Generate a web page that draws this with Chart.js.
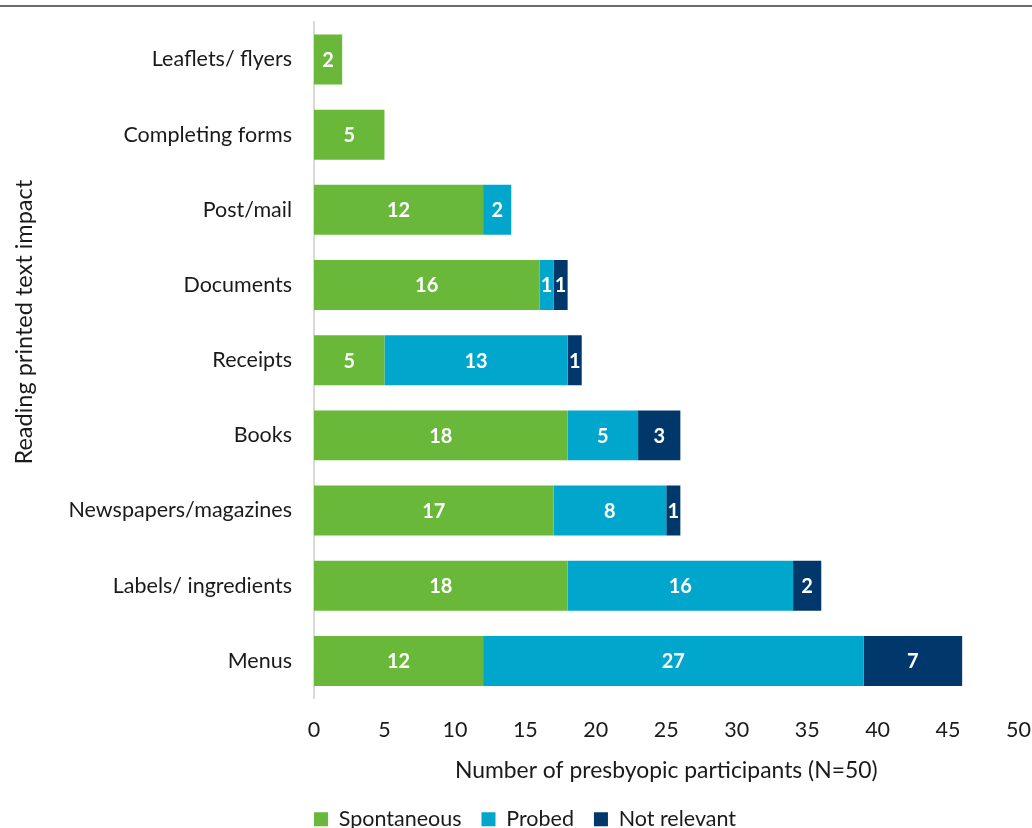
<!DOCTYPE html>
<html>
<head>
<meta charset="utf-8">
<script src="https://cdn.jsdelivr.net/npm/chart.js@4"></script>
<style>
  html, body { margin: 0; padding: 0; background: #fff; overflow: hidden; }
  #wrap { position: relative; width: 1032px; height: 828px; overflow: hidden; }
  #topline { position: absolute; left: 0; top: 5px; width: 1032px; height: 2px; background: #6b6b6b; z-index: 2; }
  #chart { position: absolute; left: 0; top: -13px; }
</style>
</head>
<body>
<div id="wrap">
  <div id="topline"></div>
  <canvas id="chart" width="1050" height="853"></canvas>
</div>
<script>
// Data
const categories = ['Leaflets/ flyers', 'Completing forms', 'Post/mail', 'Documents', 'Receipts',
  'Books', 'Newspapers/magazines', 'Labels/ ingredients', 'Menus'];
const spontaneous = [2, 5, 12, 16, 5, 18, 17, 18, 12];
const probed = [null, null, 2, 1, 13, 5, 8, 16, 27];
const notRelevant = [null, null, null, 1, 1, 3, 1, 2, 7];
const xTicks = [0, 5, 10, 15, 20, 25, 30, 35, 40, 45, 50];

const FONT = 'Lato, Carlito, Calibri, sans-serif';

// white value labels inside each segment
const segmentLabels = {
    id: 'segmentLabels',
    afterDatasetsDraw(chart) {
        const c = chart.ctx;
        c.save();
        c.fillStyle = '#fff';
        c.font = 'bold 20px ' + FONT;
        c.textAlign = 'center';
        c.textBaseline = 'middle';
        chart.data.datasets.forEach((ds, i) => {
            chart.getDatasetMeta(i).data.forEach((bar, j) => {
                const v = ds.data[j];
                if (!v) return;
                const cx = (bar.x + bar.base) / 2;
                c.fillText(String(v), cx, bar.y + 1);
            });
        });
        c.restore();
    }
};

// y-axis title, sits a bit above the middle of the axis as in the original
const yTitle = {
    id: 'yTitle',
    afterDraw(chart) {
        const c = chart.ctx;
        const area = chart.chartArea;
        c.save();
        c.translate(24, (area.top + area.bottom) / 2 - 38);
        c.rotate(-Math.PI / 2);
        c.fillStyle = '#1a1a1a';
        c.font = '23.5px ' + FONT;
        c.textAlign = 'center';
        c.textBaseline = 'middle';
        c.fillText('Reading printed text impact', 0, 0);
        c.restore();
    }
};

new Chart(document.getElementById('chart').getContext('2d'), {
    type: 'bar',
    data: {
        labels: categories,
        datasets: [
            { label: 'Spontaneous', data: spontaneous, backgroundColor: '#6ab83a' },
            { label: 'Probed', data: probed, backgroundColor: '#00a6cc' },
            { label: 'Not relevant', data: notRelevant, backgroundColor: '#00386c' }
        ]
    },
    options: {
        indexAxis: 'y',
        responsive: false,
        animation: false,
        layout: { padding: 0 },
        barPercentage: 0.665,
        categoryPercentage: 1,
        scales: {
            x: {
                stacked: true,
                min: 0,
                max: 50,
                afterBuildTicks(axis) { axis.ticks = xTicks.map(v => ({ value: v })); },
                afterFit(axis) { axis.height = 90; },
                grid: { display: false, drawTicks: false },
                border: { display: false },
                ticks: { color: '#1a1a1a', font: { family: FONT, size: 21.5 }, padding: 19 },
                title: {
                    display: true,
                    text: 'Number of presbyopic participants (N=50)',
                    color: '#1a1a1a',
                    font: { family: FONT, size: 22.9 },
                    padding: { top: 0, bottom: 4 }
                }
            },
            y: {
                stacked: true,
                afterFit(axis) { axis.width = 314; },
                grid: { display: false, drawTicks: false },
                border: { display: true, color: '#d9d9d9', width: 2 },
                ticks: { color: '#1a1a1a', font: { family: FONT, size: 21.5 }, padding: 22 }
            }
        },
        plugins: {
            legend: {
                position: 'bottom',
                labels: {
                    color: '#1a1a1a',
                    font: { family: FONT, size: 21.5 },
                    boxWidth: 14,
                    boxHeight: 14,
                    padding: 20
                }
            },
            tooltip: { enabled: false }
        }
    },
    plugins: [segmentLabels, yTitle]
});
</script>
</body>
</html>
